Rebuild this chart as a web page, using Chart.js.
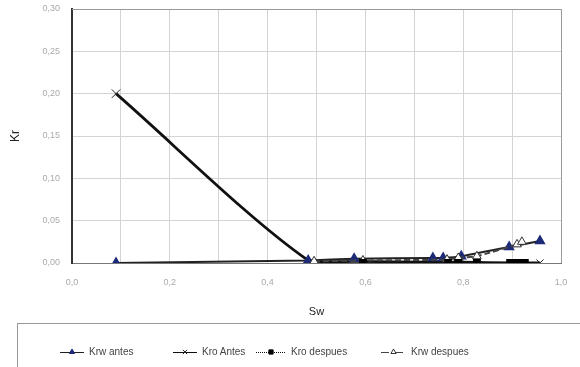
<!DOCTYPE html>
<html>
<head>
<meta charset="utf-8">
<script src="https://cdn.jsdelivr.net/npm/chart.js@4/dist/chart.umd.min.js"></script>
<style>
  body { margin: 0; background: #fff; font-family: "Liberation Sans", Arial, sans-serif; }
  #wrap { position: relative; width: 580px; height: 367px; overflow: hidden; }
  #legend { position: absolute; left: 17px; top: 323px; width: 600px; height: 80px;
            border-top: 1px solid #999; border-left: 1px solid #999; }
  .item { position: absolute; top: 22px; font-size: 10px; color: #444; white-space: nowrap; }
  .sample { display: inline-block; position: relative; height: 8px; vertical-align: middle; margin-right: 5px; }
  .sample canvas { position: absolute; left: 0; top: 0; }
</style>
</head>
<body>
<div id="wrap">
  <canvas id="kr-chart" width="580" height="367"></canvas>
  <div id="legend"></div>
</div>
<script>
// Kro Antes
const kroAntesSw = [0.09, 0.483, 0.58, 0.74, 0.80, 0.90, 0.957];
const kroAntesKr = [0.200, 0.003, 0.002, 0.001, 0.001, 0.000, 0.000];
// Krw antes
const krwAntesSw = [0.09, 0.483, 0.577, 0.738, 0.759, 0.796, 0.894, 0.957];
const krwAntesKr = [0.000, 0.003, 0.005, 0.006, 0.006, 0.008, 0.019, 0.026];
// Kro despues
const kroDespSw = [0.595, 0.769, 0.790, 0.828, 0.896, 0.906, 0.916, 0.926];
const kroDespKr = [0.000, 0.000, 0.000, 0.000, 0.000, 0.000, 0.000, 0.000];
// Krw despues
const krwDespSw = [0.495, 0.595, 0.767, 0.790, 0.828, 0.910, 0.920];
const krwDespKr = [0.002, 0.003, 0.004, 0.006, 0.008, 0.022, 0.025];

const xTicks = ['0,0', '0,2', '0,4', '0,6', '0,8', '1,0'];
const yTicks = ['0,00', '0,05', '0,10', '0,15', '0,20', '0,25', '0,30'];

function pts(xs, ys) {
    return xs.map((x, i) => ({ x: x, y: ys[i] }));
}

const series = [
    { label: 'Krw antes', data: pts(krwAntesSw, krwAntesKr), borderColor: '#222', borderWidth: 2, tension: 0.15, order: 2,
      pointStyle: 'triangle', pointRadius: 4.5, pointBackgroundColor: '#1c2a78', pointBorderColor: '#1c2a78', borderDash: [] },
    { label: 'Kro Antes', data: pts(kroAntesSw, kroAntesKr), borderColor: '#111', borderWidth: 2.8, tension: 0.3, order: 3,
      pointStyle: 'cross', pointRotation: 45, pointRadius: [6, 0, 0, 0, 0, 5, 5], pointBackgroundColor: '#111', pointBorderColor: '#222', pointBorderWidth: 1, borderDash: [] },
    { label: 'Kro despues', data: pts(kroDespSw, kroDespKr), borderColor: '#111', borderWidth: 1.5, tension: 0.15, order: 0,
      pointStyle: 'rect', pointRadius: 4.5, pointBackgroundColor: '#000', pointBorderColor: '#000', borderDash: [2, 2] },
    { label: 'Krw despues', data: pts(krwDespSw, krwDespKr), borderColor: '#444', borderWidth: 2, tension: 0.15, order: 1,
      pointStyle: 'triangle', pointRadius: 5, pointBackgroundColor: '#fff', pointBorderColor: '#333', pointBorderWidth: 1, borderDash: [6, 3] }
];

const ctx = document.getElementById('kr-chart').getContext('2d');
const chart = new Chart(ctx, {
    type: 'scatter',
    data: {
        datasets: series.map(s => Object.assign({ showLine: true, fill: false }, s))
    },
    options: {
        responsive: false,
        animation: false,
        layout: { padding: { left: 4, right: 19, top: 9, bottom: 44 } },
        plugins: { legend: { display: false }, tooltip: { enabled: false } },
        scales: {
            x: {
                min: 0, max: 1,
                ticks: {
                    stepSize: 0.1, color: '#aaa', font: { size: 9 }, padding: 14, maxRotation: 0,
                    callback: function(v) {
                        const i = Math.round(v * 10);
                        return i % 2 === 0 ? xTicks[i / 2] : '';
                    }
                },
                grid: { color: '#d4d4d4', drawTicks: false },
                border: { color: '#777', width: 1 },
                title: { display: true, text: 'Sw', color: '#222', font: { size: 11 }, padding: { top: 4 } },
                afterFit: function(scale) { scale.height = 60; scale.paddingLeft = 0; scale.paddingRight = 0; }
            },
            y: {
                min: 0, max: 0.3,
                ticks: {
                    stepSize: 0.05, color: '#aaa', font: { size: 9 }, padding: 12,
                    callback: function(v) { return yTicks[Math.round(v / 0.05)]; }
                },
                grid: { color: '#d4d4d4', drawTicks: false },
                border: { color: '#333', width: 2 },
                title: { display: true, text: 'Kr', color: '#222', font: { size: 12 } },
                afterFit: function(scale) { scale.width = 68; scale.paddingTop = 0; scale.paddingBottom = 0; }
            }
        }
    },
    plugins: [{
        id: 'frame',
        afterDraw: function(c) {
            const a = c.chartArea;
            const g = c.ctx;
            g.save();
            g.strokeStyle = '#999';
            g.lineWidth = 1;
            g.beginPath();
            g.moveTo(a.left, a.top + 0.5);
            g.lineTo(a.right + 0.5, a.top + 0.5);
            g.lineTo(a.right + 0.5, a.bottom);
            g.stroke();
            g.restore();
        }
    }]
});

// legend
const legendPos = [42, 155, 238, 363];
const sampleW = [24, 24, 30, 25];
const legend = document.getElementById('legend');
series.forEach((s, i) => {
    const item = document.createElement('div');
    item.className = 'item';
    item.style.left = legendPos[i] + 'px';
    const sample = document.createElement('span');
    sample.className = 'sample';
    const w = sampleW[i];
    sample.style.width = w + 'px';
    const cv = document.createElement('canvas');
    cv.width = w; cv.height = 8;
    const g = cv.getContext('2d');
    g.strokeStyle = s.borderColor;
    g.lineWidth = 1;
    g.setLineDash(s.borderDash.length ? (s.borderDash[0] > 3 ? [8, 6] : [1, 1]) : []);
    g.beginPath(); g.moveTo(0, 4.5); g.lineTo(w, 4.5); g.stroke();
    g.setLineDash([]);
    g.fillStyle = s.pointBackgroundColor;
    g.strokeStyle = s.pointBorderColor;
    Chart.helpers.drawPoint(g, {
        pointStyle: s.pointStyle, radius: 3, rotation: s.pointRotation || 0,
        borderWidth: 1
    }, w / 2, 4);
    sample.appendChild(cv);
    item.appendChild(sample);
    item.appendChild(document.createTextNode(s.label));
    legend.appendChild(item);
});
</script>
</body>
</html>
